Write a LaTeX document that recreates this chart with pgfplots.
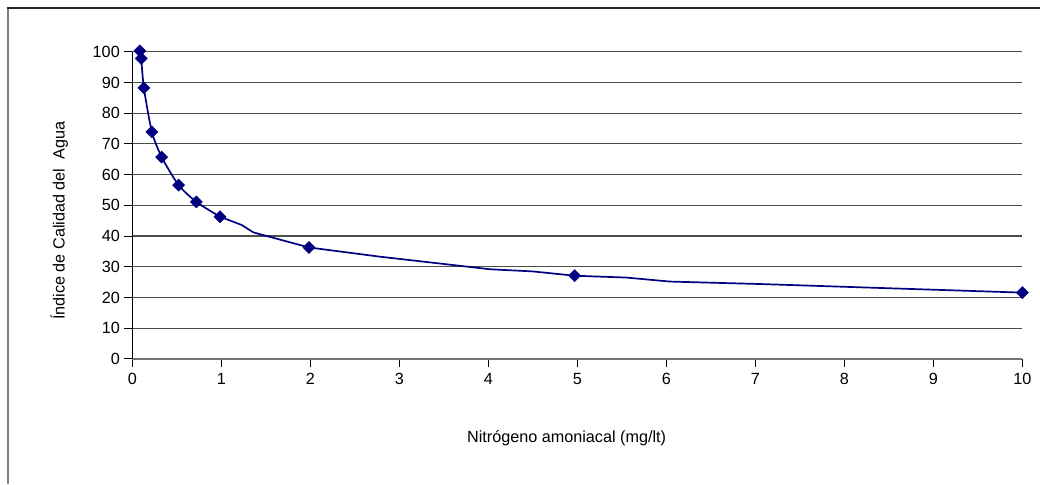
\documentclass[border=0pt]{standalone}
\usepackage{pgfplots}
\pgfplotsset{compat=1.18}
\usepackage{fontspec}
\setmainfont{Liberation Sans}
\definecolor{navyline}{RGB}{0,0,128}
\begin{document}
\begin{tikzpicture}[x=1pt,y=1pt]
\useasboundingbox (0,0) rectangle (1040,484);
\draw[line width=1.5pt, black!50] (8,0) -- (8,476);
\draw[line width=1.5pt, black!85] (7.25,476) -- (1040,476);
\begin{axis}[
  at={(132.3pt,125pt)}, anchor=south west,
  width=890pt, height=307.3pt, scale only axis,
  xmin=0, xmax=10, ymin=0, ymax=100,
  xtick={0,1,...,10}, ytick={0,10,...,100},
  axis lines*=left, axis line style={-},
  x axis line style={black!55, line width=1.2pt},
  y axis line style={black, line width=1pt},
  tick align=outside, major tick length=8pt,
  tick style={black, line width=1pt},
  ymajorgrids, grid style={black!70, line width=1.2pt},
  tick label style={font=\fontsize{16.2}{19}\selectfont},
  /pgf/number format/assume math mode=true,
  xticklabel style={yshift=-3pt},
  yticklabel style={xshift=-1pt},
  xlabel={Nitrógeno amoniacal (mg/lt)},
  ylabel={Índice de Calidad del\ \ Agua},
  label style={font=\fontsize{16.2}{19}\selectfont},
  xlabel style={at={(axis description cs:0.488,-0.257)}, anchor=center},
  ylabel style={at={(axis description cs:-0.082,0.45)}, anchor=center, rotate=0},
  clip=false,
]
\addplot[navyline, line width=1.7pt, smooth, tension=0.4] coordinates {
  (0.085,100.3) (0.1,97.8) (0.13,88.2) (0.22,73.9) (0.33,65.7)
  (0.52,56.6) (0.72,51.1) (0.985,46.3)
};
\addplot[navyline, line width=1.7pt] coordinates {
  (0.985,46.3) (1.23,43.6) (1.36,41.2) (1.985,36.3) (2.78,33.3)
  (4.02,29.2) (4.5,28.5) (4.97,27.1) (5.55,26.5) (6.04,25.2)
  (7.05,24.4) (10,21.6)
};
\addplot[only marks, mark=square*, mark size=4.3pt, mark options={rotate=45, fill=navyline, draw=navyline}] coordinates {
  (0.085,100.3) (0.1,97.8) (0.13,88.2) (0.22,73.9) (0.33,65.7)
  (0.52,56.6) (0.72,51.1) (0.985,46.3) (1.985,36.3) (4.97,27.1)
  (10,21.6)
};
\end{axis}
\end{tikzpicture}
\end{document}
